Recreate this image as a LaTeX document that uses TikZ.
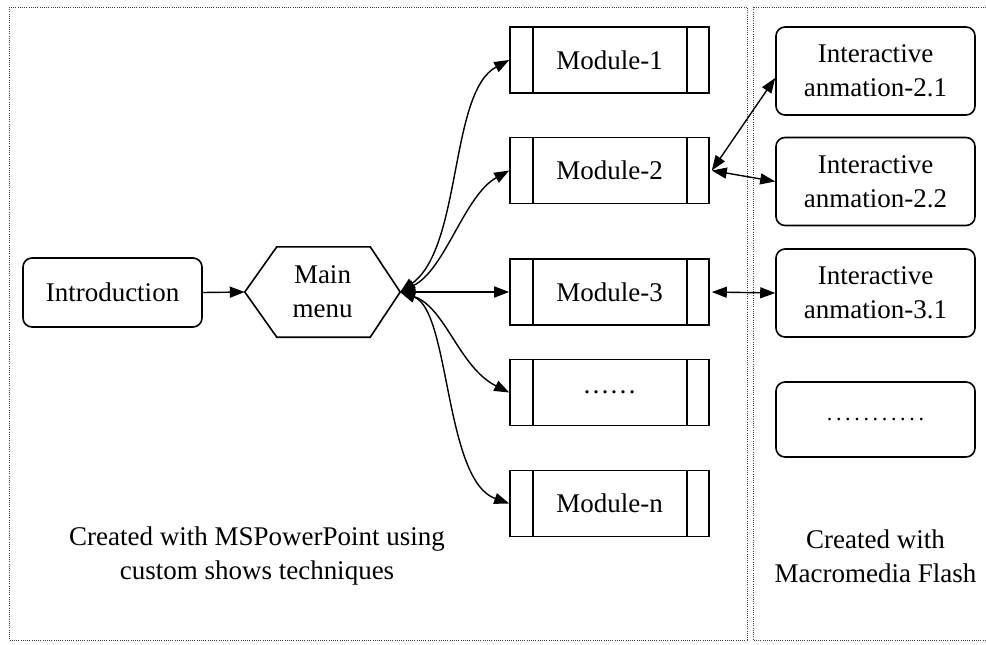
\documentclass[tikz,border=0pt]{standalone}
\usepackage{fontspec}
\setmainfont{Liberation Serif}
\usetikzlibrary{arrows.meta,calc}

\tikzset{
  txt/.style={font=\fontsize{27}{34}\selectfont, align=center, inner sep=0pt},
  frame/.style={draw=black!75, line width=1pt, dash pattern=on 1pt off 1.2pt},
  roundbox/.style={txt, draw, line width=1.6pt, rounded corners=9pt,
    minimum width=199pt, minimum height=88pt},
  modbox/.style={txt, draw, line width=1.6pt, minimum width=199pt, minimum height=66pt},
  tip/.tip={Triangle[length=15pt,width=11pt]},
  link/.style={line width=1.4pt, tip-tip},
  fwd/.style={line width=1.4pt, -tip}
}

\begin{document}
\begin{tikzpicture}[x=1pt, y=-1pt]
  \useasboundingbox (0,0) rectangle (986,645);

  % the two dotted regions
  \draw[frame] (9,7) rectangle (747,640);
  \draw[frame] (986,7) -- (753,7) -- (753,640) -- (986,640);

  % left column
  \node[roundbox, minimum width=179pt, minimum height=69pt] (intro) at (112.5,292.5) {Introduction};

  \node[txt, minimum width=155pt, minimum height=90pt] (mm) at (322.5,292) {Main\\menu};
  \draw[line width=1.6pt]
    (mm.west) -- ($(mm.north west)+(32,0)$) -- ($(mm.north east)+(-30,0)$) -- (mm.east)
    -- ($(mm.south east)+(-30,0)$) -- ($(mm.south west)+(32,0)$) -- cycle;

  % modules
  \node[modbox] (m1) at (609.5,60)  {Module-1};
  \node[modbox] (m2) at (609.5,170.5) {Module-2};
  \node[modbox] (m3) at (609.5,292) {Module-3};
  \node[modbox] (m4) at (609.5,392.5) {……};
  \node[modbox] (mn) at (609.5,503.5) {Module-n};
  \foreach \m in {m1,m2,m3,m4,mn}{
    \draw[line width=1.6pt] ($(\m.north west)+(24,0)$) -- ($(\m.south west)+(24,0)$);
    \draw[line width=1.6pt] ($(\m.north east)+(-23,0)$) -- ($(\m.south east)+(-23,0)$);
  }

  % animations
  \node[roundbox] (i21) at (875.5,71)  {Interactive\\anmation-2.1};
  \node[roundbox] (i22) at (875.5,181.5) {Interactive\\anmation-2.2};
  \node[roundbox] (i31) at (875.5,293) {Interactive\\anmation-3.1};
  \node[roundbox, minimum height=75pt] (i4) at (875.5,419.5) {\fontsize{22}{26}\selectfont .\,.\,.\,.\,.\,.\,.\,.\,.\,.\,.};

  % captions
  \node[txt] (cap1) at (257,556) {Created with MSPowerPoint using\\custom shows techniques};
  \node[txt] (cap2) at (875.5,556) {Created with\\Macromedia Flash};

  % connectors
  \draw[fwd] (intro.east) -- (mm.west);
  \draw[link] (mm.east) .. controls +(62,-45) and +(-60,32) .. (m1.west);
  \draw[link] (mm.east) .. controls +(45,-22) and +(-45,25) .. (m2.west);
  \draw[link] (mm.east) -- (m3.west);
  \draw[link] (mm.east) .. controls +(45,15) and +(-50,-25) .. (m4.west);
  \draw[link] (mm.east) .. controls +(50,18) and +(-65,-23) .. (mn.west);

  \draw[link] ([xshift=2pt]m2.east) -- ([yshift=-7pt]i21.west);
  \draw[link] ([xshift=2pt]m2.east) -- (i22.west);
  \draw[link] ([xshift=2pt]m3.east) -- (i31.west);
\end{tikzpicture}
\end{document}
